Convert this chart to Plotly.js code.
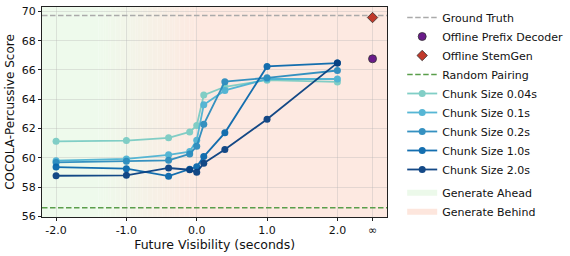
<!DOCTYPE html>
<html><head><meta charset="utf-8">
<script src="https://cdn.plot.ly/plotly-3.0.1.min.js"></script>
<style>html,body{margin:0;padding:0;background:#fff}#chart{width:570px;height:256px}</style>
</head><body><div id="chart"></div>
<script>
// ---- data ----
const visibility = [-2, -1, -0.4, -0.1, 0, 0.1, 0.4, 1, 2];
const chunkNames = ["Chunk Size 0.04s", "Chunk Size 0.1s", "Chunk Size 0.2s", "Chunk Size 1.0s", "Chunk Size 2.0s"];
const chunk004 = [61.12, 61.17, 61.36, 61.76, 62.20, 64.28, 64.85, 65.30, 65.18];
const chunk01  = [59.80, 59.92, 60.20, 60.42, 61.20, 63.62, 64.60, 65.38, 65.38];
const chunk02  = [59.68, 59.76, 59.82, 60.26, 60.78, 62.28, 65.20, 65.46, 65.96];
const chunk10  = [59.36, 59.25, 58.74, 59.22, 59.38, 60.08, 61.70, 66.24, 66.47];
const chunk20  = [58.77, 58.80, 59.30, 59.18, 59.00, 59.62, 60.56, 62.63, 66.48];
const groundTruth = 69.72;
const randomPairing = 56.58;
const offlinePrefixDecoder = 66.76;
const offlineStemGen = 69.58;
const infinityX = 2.5;
const tickVals = [-2, -1, 0, 1, 2, 2.5];
const tickText = ["-2.0", "-1.0", "0.0", "1.0", "2.0", "∞"];

// ---- styling ----
const xRange = [-2.2, 2.71];
const yRange = [55.95, 70.3];
const colors = ["#7bccc4", "#4eb3d3", "#2b8cbe", "#0868ac", "#084081"];
const series = [chunk004, chunk01, chunk02, chunk10, chunk20];
const font = "DejaVu Sans, sans-serif";
const dashStyle = "5.5px,2.5px";

const traces = [];
traces.push({x: xRange, y: [groundTruth, groundTruth], mode: "lines", name: "Ground Truth",
  line: {color: "#aaaaaa", width: 1.6, dash: dashStyle}, hoverinfo: "skip"});
traces.push({x: [infinityX], y: [offlinePrefixDecoder], mode: "markers", name: "Offline Prefix Decoder",
  marker: {color: "#6a1b8a", size: 8, symbol: "circle", line: {color: "#333", width: 0.8}}});
traces.push({x: [infinityX], y: [offlineStemGen], mode: "markers", name: "Offline StemGen",
  marker: {color: "#c0392b", size: 8, symbol: "diamond", line: {color: "#333", width: 0.8}}});
traces.push({x: xRange, y: [randomPairing, randomPairing], mode: "lines", name: "Random Pairing",
  line: {color: "#5a9e4b", width: 1.6, dash: dashStyle}, hoverinfo: "skip"});
series.forEach((s, i) => {
  traces.push({x: visibility, y: s, mode: "lines+markers", name: chunkNames[i],
    line: {color: colors[i], width: 1.8}, marker: {color: colors[i], size: 7}, opacity: 0.95});
});
traces.push({x: [null], y: [null], mode: "none", fill: "toself", name: "Generate Ahead",
  fillcolor: "#ecf9ea", legend: "legend2"});
traces.push({x: [null], y: [null], mode: "none", fill: "toself", name: "Generate Behind",
  fillcolor: "#fde6dd", legend: "legend2"});

// background gradient as thin rectangles
const shapes = [];
const green = [238, 250, 236], pink = [253, 233, 225];
const g0 = -1.4, g1 = 0.0, steps = 40;
shapes.push({type: "rect", xref: "x", yref: "y domain", x0: xRange[0], x1: g0, y0: 0, y1: 1,
  fillcolor: `rgb(${green})`, line: {width: 0}, layer: "below"});
for (let k = 0; k < steps; k++) {
  const t = (k + 0.5) / steps;
  const c = green.map((g, j) => Math.round(g + (pink[j] - g) * t));
  const a = g0 + (g1 - g0) * k / steps, b = g0 + (g1 - g0) * (k + 1) / steps + 0.002;
  shapes.push({type: "rect", xref: "x", yref: "y domain", x0: a, x1: b, y0: 0, y1: 1,
    fillcolor: `rgb(${c})`, line: {width: 0}, layer: "below"});
}
shapes.push({type: "rect", xref: "x", yref: "y domain", x0: g1, x1: xRange[1], y0: 0, y1: 1,
  fillcolor: `rgb(${pink})`, line: {width: 0}, layer: "below"});

// paper spans x 42..560, y 2..217; plot area x 42..390, y 7..217
const layout = {
  width: 570, height: 256,
  margin: {l: 42, r: 10, t: 2, b: 39},
  paper_bgcolor: "#fff", plot_bgcolor: "rgba(0,0,0,0)",
  font: {family: font, size: 11, color: "#111"},
  showlegend: true,
  xaxis: {domain: [0, 348 / 518], range: xRange, tickvals: tickVals, ticktext: tickText, showgrid: true,
    gridcolor: "rgba(180,180,180,0.35)", zeroline: false, showline: true, mirror: true,
    linecolor: "#222", linewidth: 1, ticks: "outside", ticklen: 3, tickcolor: "#222",
    tickfont: {size: 11, family: font, color: "#111"},
    title: {text: "Future Visibility (seconds)", font: {size: 12.5, family: font, color: "#111"}, standoff: 3}},
  yaxis: {domain: [0, 210 / 215], range: yRange, dtick: 2, tick0: 56, showgrid: true,
    gridcolor: "rgba(180,180,180,0.35)", zeroline: false, showline: true, mirror: true,
    linecolor: "#222", linewidth: 1, ticks: "outside", ticklen: 3, tickcolor: "#222",
    tickfont: {size: 11, family: font, color: "#111"},
    title: {text: "COCOLA-Percussive Score", font: {size: 12, family: font, color: "#111"}, standoff: 4}},
  legend: {x: 363 / 518, y: 214 / 215, xanchor: "left", yanchor: "top", bgcolor: "rgba(0,0,0,0)",
    font: {size: 11, family: font, color: "#111"}, tracegroupgap: 0, itemwidth: 30},
  legend2: {x: 363 / 518, y: 0.18, xanchor: "left", yanchor: "top", bgcolor: "rgba(0,0,0,0)",
    font: {size: 11, family: font, color: "#111"}, itemwidth: 30},
  shapes: shapes
};
Plotly.newPlot("chart", traces, layout, {displayModeBar: false, staticPlot: true});
</script></body></html>
